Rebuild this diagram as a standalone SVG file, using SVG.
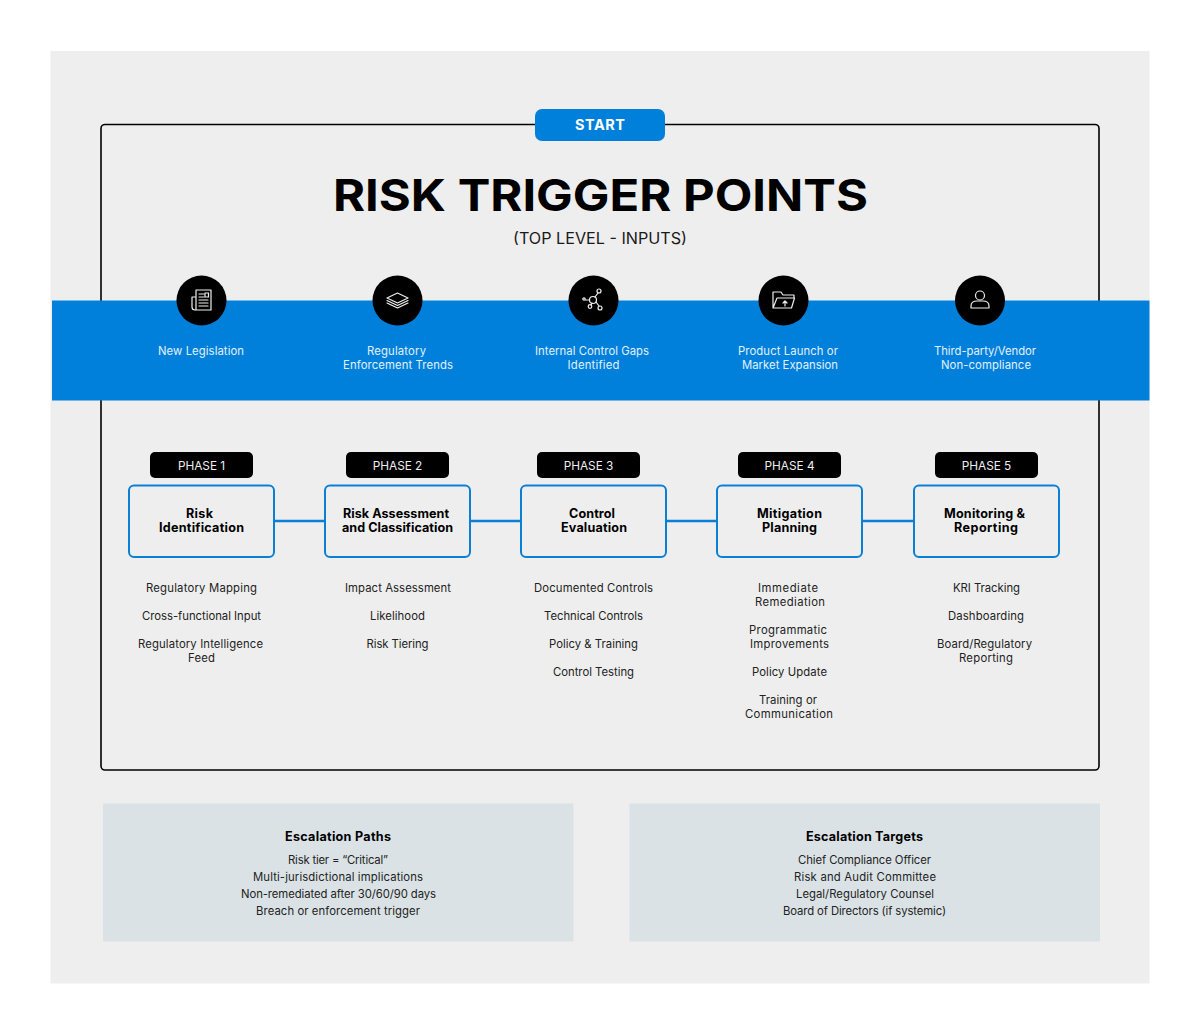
<svg xmlns="http://www.w3.org/2000/svg" width="1200" height="1034" viewBox="0 0 1200 1034">
<style>
text{font-family:"Inter","Liberation Sans",sans-serif;text-anchor:middle}
.sm{font-size:11.300px;fill:#222}
.wh{font-size:11.300px;fill:#e3f1fb}
.ph{font-size:11.800px;fill:#eee}
.nm{font-size:12.600px;font-weight:700;fill:#000}
.hd{font-size:12.600px;font-weight:700;fill:#000}
.box{fill:#eeeeee;stroke:#0b7fd4;stroke-width:2}
.lk{stroke:#0b7fd4;stroke-width:2.400;fill:none}
.tag{fill:#000}
.ic{fill:none;stroke:#eee;stroke-width:1.200;stroke-linejoin:round;stroke-linecap:round}
.pan{fill:#dbe2e6}
</style>
<rect width="1200" height="1034" fill="#fff"/>
<rect x="50.500" y="51" width="1099" height="932.500" fill="#eeeeee"/>
<rect x="101" y="124.500" width="998" height="645.500" rx="4" fill="none" stroke="#000" stroke-width="1.600"/>
<rect x="52" y="300.500" width="1097.500" height="100" fill="#0080db"/>
<g id="start"><rect x="535" y="109" width="130" height="32" rx="7" fill="#0080db"/><text x="600" y="130" font-size="14.500" font-weight="700" fill="#fff" textLength="50">START</text></g>
<g id="title"><text x="600.500" y="211" font-size="44" font-weight="700" fill="#000" textLength="535" lengthAdjust="spacingAndGlyphs">RISK TRIGGER POINTS</text>
<text x="600" y="244" font-size="15.500" fill="#1a1a1a" textLength="174" lengthAdjust="spacingAndGlyphs">(TOP LEVEL - INPUTS)</text></g>
<g id="connectors"><path class="lk" d="M274 521H325M470 521H521M666 521H717M862 521H914"/></g>
<g id="trigger1"><circle cx="201.500" cy="300.500" r="25" fill="#000"/><path class="ic" d="M196 290h15v20h-15zM196 297h-4v10q0 3 3 3h1M199 294h5M199 297h5M199 300h9M199 303h9M199 306h9"/><rect class="ic" x="205" y="293" width="3.500" height="4"/><text class="wh" x="201" y="355" textLength="86">New Legislation</text></g>
<g id="trigger2"><circle cx="397.500" cy="300.500" r="25" fill="#000"/><path class="ic" d="M397.500 293l10.500 5-10.500 5-10.500-5zM387 300.500l10.500 5 10.500-5M387 303l10.500 5 10.500-5"/><text class="wh" x="396.500" y="355" textLength="59">Regulatory</text><text class="wh" x="398" y="369" textLength="110">Enforcement Trends</text></g>
<g id="trigger3"><circle cx="593.500" cy="300.500" r="25" fill="#000"/><g class="ic"><circle cx="593" cy="300" r="3.500"/><circle cx="599" cy="291" r="2"/><circle cx="600" cy="308" r="2"/><circle cx="590" cy="306.500" r="1.800"/><circle cx="584" cy="299" r="1.200"/><path d="M595 297l3-4M596 302l3 4M592 303l-1 2M589.500 300h-4"/></g><text class="wh" x="592" y="355" textLength="114">Internal Control Gaps</text><text class="wh" x="593.500" y="369" textLength="52">Identified</text></g>
<g id="trigger4"><circle cx="783.500" cy="300.500" r="25" fill="#000"/><path class="ic" d="M773 308v-16h8l2 3h11v3M773 308l4-10h17.500l-3 10zM785 306v-5M783 303l2-2 2 2"/><text class="wh" x="788" y="355" textLength="100">Product Launch or</text><text class="wh" x="790" y="369" textLength="96">Market Expansion</text></g>
<g id="trigger5"><circle cx="980" cy="300.500" r="25" fill="#000"/><path class="ic" d="M971 308v-2q0-5 6-5h6q6 0 6 5v2z"/><circle class="ic" cx="980" cy="295.500" r="4.500"/><text class="wh" x="985" y="355" textLength="102">Third-party/Vendor</text><text class="wh" x="986" y="369" textLength="90">Non-compliance</text></g>
<g id="phase1"><rect class="tag" x="150" y="452" width="103" height="26" rx="5"/><text class="ph" x="201.500" y="469.500">PHASE 1</text><rect class="box" x="129" y="485.500" width="145" height="71.500" rx="5"/><text class="nm" x="199.500" y="518" textLength="27">Risk</text><text class="nm" x="201.500" y="532" textLength="85">Identification</text>
<text class="sm" x="201.500" y="592" textLength="111">Regulatory Mapping</text><text class="sm" x="201.500" y="620" textLength="119">Cross-functional Input</text><text class="sm" x="200.500" y="648" textLength="125">Regulatory Intelligence</text><text class="sm" x="201.500" y="662" textLength="27">Feed</text></g>
<g id="phase2"><rect class="tag" x="346" y="452" width="103" height="26" rx="5"/><text class="ph" x="397.500" y="469.500">PHASE 2</text><rect class="box" x="325" y="485.500" width="145" height="71.500" rx="5"/><text class="nm" x="396" y="518" textLength="106">Risk Assessment</text><text class="nm" x="397.500" y="532" textLength="111">and Classification</text>
<text class="sm" x="398" y="592" textLength="106">Impact Assessment</text><text class="sm" x="397.500" y="620" textLength="55">Likelihood</text><text class="sm" x="397.500" y="648" textLength="62">Risk Tiering</text></g>
<g id="phase3"><rect class="tag" x="537" y="452" width="103" height="26" rx="5"/><text class="ph" x="588.500" y="469.500">PHASE 3</text><rect class="box" x="521" y="485.500" width="145" height="71.500" rx="5"/><text class="nm" x="592" y="518" textLength="46">Control</text><text class="nm" x="594" y="532" textLength="66">Evaluation</text>
<text class="sm" x="593.500" y="592" textLength="119">Documented Controls</text><text class="sm" x="593.500" y="620" textLength="99">Technical Controls</text><text class="sm" x="593.500" y="648" textLength="89">Policy &amp; Training</text><text class="sm" x="593.500" y="676" textLength="81">Control Testing</text></g>
<g id="phase4"><rect class="tag" x="738" y="452" width="103" height="26" rx="5"/><text class="ph" x="789.500" y="469.500">PHASE 4</text><rect class="box" x="717" y="485.500" width="145" height="71.500" rx="5"/><text class="nm" x="789.500" y="518" textLength="65">Mitigation</text><text class="nm" x="789.500" y="532" textLength="55">Planning</text>
<text class="sm" x="788" y="592" textLength="60">Immediate</text><text class="sm" x="790" y="606" textLength="70">Remediation</text><text class="sm" x="788" y="634" textLength="78">Programmatic</text><text class="sm" x="789.500" y="648" textLength="79">Improvements</text><text class="sm" x="789.500" y="676" textLength="75">Policy Update</text><text class="sm" x="788" y="704" textLength="58">Training or</text><text class="sm" x="789" y="718" textLength="88">Communication</text></g>
<g id="phase5"><rect class="tag" x="935" y="452" width="103" height="26" rx="5"/><text class="ph" x="986.500" y="469.500">PHASE 5</text><rect class="box" x="914" y="485.500" width="145" height="71.500" rx="5"/><text class="nm" x="984.500" y="518" textLength="81">Monitoring &amp;</text><text class="nm" x="986" y="532" textLength="64">Reporting</text>
<text class="sm" x="986.500" y="592" textLength="67">KRI Tracking</text><text class="sm" x="986" y="620" textLength="76">Dashboarding</text><text class="sm" x="984.500" y="648" textLength="95">Board/Regulatory</text><text class="sm" x="986" y="662" textLength="54">Reporting</text></g>
<g id="escalation-paths"><rect class="pan" x="103" y="803.500" width="470.500" height="138"/><text class="hd" x="338" y="841" textLength="106">Escalation Paths</text><text class="sm" x="338" y="864" textLength="100">Risk tier = “Critical”</text><text class="sm" x="338" y="881" textLength="170">Multi-jurisdictional implications</text><text class="sm" x="338.500" y="898" textLength="195">Non-remediated after 30/60/90 days</text><text class="sm" x="338" y="915" textLength="164">Breach or enforcement trigger</text></g>
<g id="escalation-targets"><rect class="pan" x="629.500" y="803.500" width="470.500" height="138"/><text class="hd" x="864.500" y="841" textLength="117">Escalation Targets</text><text class="sm" x="864.500" y="864" textLength="133">Chief Compliance Officer</text><text class="sm" x="865" y="881" textLength="142">Risk and Audit Committee</text><text class="sm" x="865" y="898" textLength="138">Legal/Regulatory Counsel</text><text class="sm" x="864.500" y="915" textLength="163">Board of Directors (if systemic)</text></g>
</svg>
